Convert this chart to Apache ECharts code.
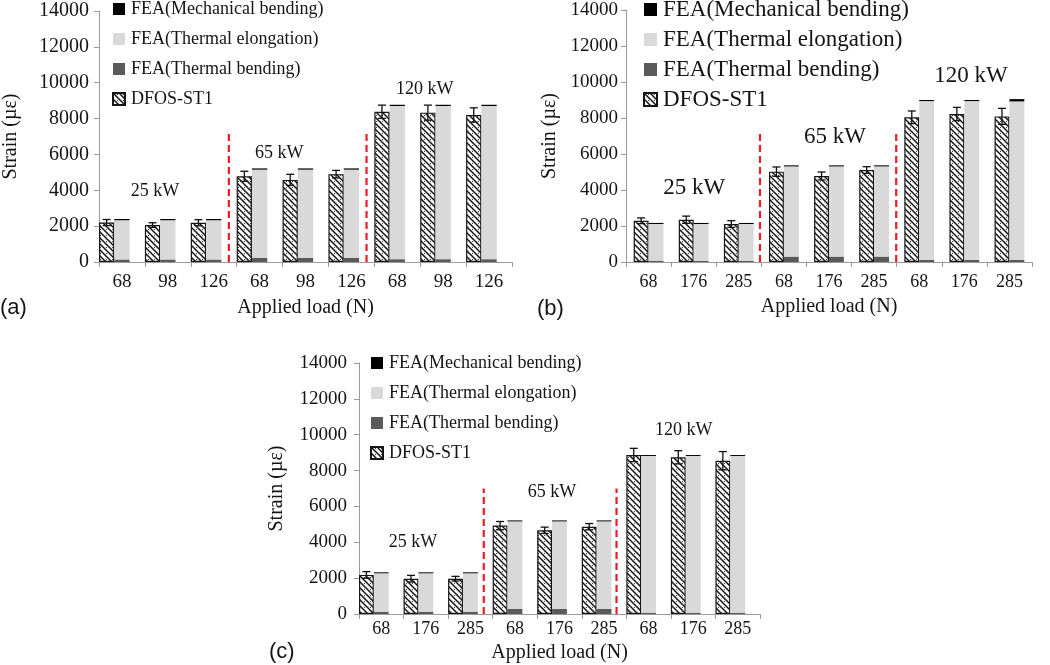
<!DOCTYPE html>
<html><head><meta charset="utf-8">
<script src="https://cdn.jsdelivr.net/npm/echarts/dist/echarts.min.js"></script>
<style>html,body{margin:0;padding:0;background:#fff}#c{width:1050px;height:665px}</style>
</head><body><div id="c"></div>
<script>
// ---------- data ----------
const catsA = ['68','98','126','68','98','126','68','98','126'];
const catsB = ['68','176','285','68','176','285','68','176','285'];
const catsC = ['68','176','285','68','176','285','68','176','285'];

const dfosA = [2200, 2060, 2190, 4780, 4580, 4900, 8380, 8330, 8200];
const errA  = [170, 130, 170, 280, 310, 210, 370, 420, 400];
const tbA   = [140, 140, 140, 230, 230, 230, 160, 160, 160];
const teA   = [2190, 2190, 2190, 4920, 4920, 4920, 8540, 8540, 8540];
const mbA   = [70, 70, 70, 70, 70, 70, 70, 70, 70];

const dfosB = [2290, 2350, 2110, 5020, 4780, 5110, 8040, 8220, 8090];
const errB  = [160, 200, 185, 260, 220, 185, 350, 370, 445];
const tbB   = [70, 70, 70, 300, 300, 300, 110, 110, 110];
const teB   = [2040, 2040, 2040, 5010, 5010, 5010, 8830, 8830, 8810];
const mbB   = [60, 60, 60, 60, 60, 60, 60, 60, 130];

const dfosC = [2180, 1970, 1970, 4930, 4670, 4870, 8870, 8740, 8550];
const errC  = [185, 185, 130, 230, 175, 175, 370, 370, 510];
const tbC   = [130, 130, 130, 280, 280, 280, 75, 75, 75];
const teC   = [2140, 2140, 2140, 4885, 4885, 4885, 8740, 8740, 8740];
const mbC   = [55, 55, 55, 55, 55, 55, 55, 55, 55];

const yTickLabels = ['0', '2000', '4000', '6000', '8000', '10000', '12000', '14000'];

// divider lines: [x position in category units, top value]
const dividersA = [[2.83, 7200], [5.83, 7200]];
const dividersB = [[2.97, 7200], [5.99, 7200]];
const dividersC = [[2.80, 7000], [5.78, 7000]];

// power annotations: [x in category units, y value]
const noteText = ['25 kW', '65 kW', '120 kW'];
const notesA = [[1.22, 3950], [3.93, 6080], [7.10, 9650]];
const notesB = [[1.51, 4090], [4.63, 6960], [7.65, 10330]];
const notesC = [[1.21, 4015], [4.33, 6800], [7.29, 10260]];

const legendNames = ['FEA(Mechanical bending)', 'FEA(Thermal elongation)', 'FEA(Thermal bending)', 'DFOS-ST1'];

// ---------- styling helpers ----------
const SERIF = "Liberation Serif";
const SANS = "Liberation Sans";
const TXT = '#141414';
const AX = '#9a9a9a';

function hatch() {
  const s = 6, c = document.createElement('canvas');
  c.width = s; c.height = s;
  const g = c.getContext('2d');
  g.fillStyle = '#fff'; g.fillRect(0, 0, s, s);
  g.strokeStyle = '#151515'; g.lineWidth = 1.5;
  g.beginPath();
  g.moveTo(-1, -1); g.lineTo(s + 1, s + 1);
  g.moveTo(-1, s - 1); g.lineTo(1, s + 1);
  g.moveTo(s - 1, -1); g.lineTo(s + 1, 1);
  g.stroke();
  g.fillStyle = '#333'; g.fillRect(4, 1, 1, 1);
  return c;
}
const HATCH = { image: hatch(), repeat: 'repeat' };

function errRender(frac) {
  return function (params, api) {
    const idx = api.value(0), v = api.value(1), e = api.value(2);
    const w = api.size([1, 0])[0];
    const x = api.coord([idx, v])[0] - w * frac;
    const top = api.coord([idx, v + e])[1], bot = api.coord([idx, v - e])[1];
    const cap = 4, st = { stroke: '#111', lineWidth: 1.3 };
    return { type: 'group', children: [
      { type: 'line', shape: { x1: x, y1: top, x2: x, y2: bot }, style: st },
      { type: 'line', shape: { x1: x - cap, y1: top, x2: x + cap, y2: top }, style: st },
      { type: 'line', shape: { x1: x - cap, y1: bot, x2: x + cap, y2: bot }, style: st }
    ]};
  };
}
function noteRender(font) {
  return function (params, api) {
    const p = api.coord([api.value(0), api.value(1)]);
    return { type: 'text', x: p[0], y: p[1],
      style: { text: noteText[params.dataIndex], fill: TXT, fontSize: font, fontFamily: SERIF,
        align: 'center', verticalAlign: 'middle' } };
  };
}

const option = { animation: false, backgroundColor: '#fff',
  textStyle: { fontFamily: SERIF, color: TXT },
  grid: [], xAxis: [], yAxis: [], series: [], legend: [], title: [] };

function panel(i, p) {
  option.grid.push({ left: p.grid[0], top: p.grid[1], right: p.grid[2], bottom: p.grid[3], containLabel: false });
  option.xAxis.push({
    type: 'category', gridIndex: i, data: p.cats,
    axisLine: { lineStyle: { color: AX, width: 1 } },
    axisTick: { show: true, length: 5, lineStyle: { color: AX } },
    axisLabel: { interval: 0, margin: p.xMargin, color: TXT, fontSize: p.xFont, fontFamily: SERIF,
      formatter: (v) => '{t|' + v + '}',
      rich: { t: { fontFamily: SERIF, fontSize: p.xFont, color: TXT } } },
    name: 'Applied load (N)', nameLocation: 'middle', nameGap: p.xNameGap,
    nameTextStyle: { color: TXT, fontSize: 20, fontFamily: SERIF },
    splitLine: { show: false }
  });
  option.xAxis.push({ type: 'value', gridIndex: i, min: 0, max: 9, show: false });
  option.yAxis.push({
    type: 'value', gridIndex: i, min: 0, max: 14000, interval: 2000,
    axisLine: { show: true, lineStyle: { color: AX, width: 1 } },
    axisTick: { show: true, length: 5, lineStyle: { color: AX } },
    axisLabel: { margin: p.yMargin, color: TXT, fontSize: p.yFont, fontFamily: SERIF,
      formatter: (v) => '{t|' + yTickLabels[Math.round(v / 2000)] + '}',
      rich: { t: { fontFamily: SERIF, fontSize: p.yFont, color: TXT } } },
    splitLine: { show: false },
    name: 'Strain (\u00b5\u03b5)', nameLocation: 'middle', nameGap: p.yNameGap,
    nameTextStyle: { color: TXT, fontSize: 20, fontFamily: SERIF }
  });
  const cx = 2 * i, vx = 2 * i + 1;
  const common = { type: 'bar', xAxisIndex: cx, yAxisIndex: i, barGap: '0%', barCategoryGap: p.catGap };
  option.series.push(Object.assign({}, common, { name: 'DFOS-ST1', stack: 'd' + i, data: p.dfos,
    itemStyle: { color: HATCH, borderColor: '#151515', borderWidth: 1.2 } }));
  option.series.push(Object.assign({}, common, { name: 'FEA(Thermal bending)', stack: 'f' + i, data: p.tb,
    itemStyle: { color: '#5a5a5a' } }));
  option.series.push(Object.assign({}, common, { name: 'FEA(Thermal elongation)', stack: 'f' + i, data: p.te,
    itemStyle: { color: '#d9d9d9' } }));
  option.series.push(Object.assign({}, common, { name: 'FEA(Mechanical bending)', stack: 'f' + i, data: p.mb,
    itemStyle: { color: '#000' } }));
  if (p.dummy) {
    option.series.push(Object.assign({}, common, { name: 'spacer' + i, stack: 'z' + i,
      data: p.cats.map(() => 0), itemStyle: { color: 'rgba(0,0,0,0)' }, silent: true }));
  }
  option.series.push({ type: 'custom', xAxisIndex: cx, yAxisIndex: i, z: 5,
    renderItem: errRender(p.errFrac), encode: { x: 0, y: 1 },
    data: p.dfos.map((v, k) => [k, v, p.err[k]]) });
  p.dividers.forEach(d => {
    option.series.push({ type: 'line', xAxisIndex: vx, yAxisIndex: i, symbol: 'none', z: 6,
      lineStyle: { color: '#ee1c25', width: 2.2, type: [7, 4] },
      data: [[d[0], 0], [d[0], d[1]]] });
  });
  option.series.push({ type: 'custom', xAxisIndex: vx, yAxisIndex: i, z: 7,
    renderItem: noteRender(p.noteFont), encode: { x: 0, y: 1 }, data: p.notes });
  option.legend.push({ orient: 'vertical', left: p.legend[0], top: p.legend[1], padding: 0,
    itemWidth: p.legendIcon, itemHeight: p.legendIcon, itemGap: p.legendGap, selectedMode: false,
    data: legendNames.map(n => ({ name: n, icon: 'rect' })),
    textStyle: { color: TXT, fontSize: p.legendFont, fontFamily: SERIF, padding: [0, 0, 0, 1] } });
  option.title.push({ text: p.tag, left: p.tagPos[0], top: p.tagPos[1], padding: 0,
    textStyle: { fontFamily: SANS, fontWeight: 'normal', fontSize: 22, color: TXT } });
}

panel(0, { cats: catsA, dfos: dfosA, err: errA, tb: tbA, te: teA, mb: mbA,
  grid: [98, 11, 538, 403], catGap: '0%', dummy: true, errFrac: 1 / 3,
  xMargin: 11, xFont: 19, xNameGap: 36, yMargin: 10, yFont: 20, yNameGap: 78,
  dividers: dividersA, notes: notesA, noteFont: 18,
  legend: [112, 0], legendIcon: 12, legendGap: 12, legendFont: 18, tag: '(a)', tagPos: [0, 297] });
panel(1, { cats: catsB, dfos: dfosB, err: errB, tb: tbB, te: teB, mb: mbB,
  grid: [626, 10, 18, 403], catGap: '34%', dummy: false, errFrac: 0.165,
  xMargin: 11, xFont: 18, xNameGap: 35, yMargin: 8, yFont: 19, yNameGap: 66,
  dividers: dividersB, notes: notesB, noteFont: 23,
  legend: [643, -2], legendIcon: 13, legendGap: 7, legendFont: 23, tag: '(b)', tagPos: [537, 298] });
panel(2, { cats: catsC, dfos: dfosC, err: errC, tb: tbC, te: teC, mb: mbC,
  grid: [359, 363, 290, 51], catGap: '0%', dummy: true, errFrac: 1 / 3,
  xMargin: 6, xFont: 18, xNameGap: 29, yMargin: 12, yFont: 19, yNameGap: 72,
  dividers: dividersC, notes: notesC, noteFont: 18,
  legend: [370, 354], legendIcon: 12, legendGap: 12, legendFont: 18, tag: '(c)', tagPos: [269, 641] });

const chart = echarts.init(document.getElementById('c'), null, { renderer: 'canvas' });
chart.setOption(option);
</script>
</body></html>
